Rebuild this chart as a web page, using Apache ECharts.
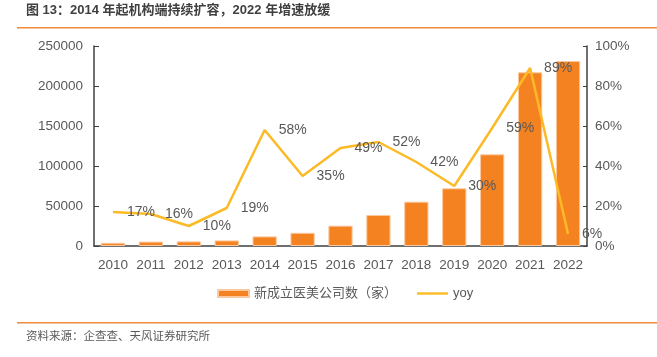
<!DOCTYPE html>
<html><head><meta charset="utf-8">
<script src="https://cdn.jsdelivr.net/npm/echarts@6/dist/echarts.min.js"></script>
<style>html,body{margin:0;padding:0;background:#fff}#c{width:657px;height:357px}</style>
</head><body><div id="c"></div>
<script>
const categories = ['2010','2011','2012','2013','2014','2015','2016','2017','2018','2019','2020','2021','2022'];
const companies = [4000, 5500, 5800, 7000, 12000, 16500, 25400, 38800, 55400, 72100, 114600, 217100, 231200];
const yoy = [17, 16, 10, 19, 58, 35, 49, 52, 42, 30, 59, 89, 6];
const barName = '新成立医美公司数（家）';
const lineName = 'yoy';
const titleText = '图 13：2014 年起机构端持续扩容，2022 年增速放缓';
const sourceText = '资料来源：企查查、天风证券研究所';

const FF = '"Liberation Sans", Arial, "Noto Sans CJK SC", sans-serif';
const chart = echarts.init(document.getElementById('c'), null, {renderer: 'canvas'});
chart.setOption({
  animation: false,
  textStyle: {fontFamily: FF},
  graphic: [
    {type: 'text', left: 26, top: 4, style: {text: titleText, font: 'bold 13px ' + FF, fill: '#404040'}},
    {type: 'rect', shape: {x: 17, y: 27, width: 640, height: 1.5}, style: {fill: '#F08A3C'}},
    {type: 'rect', shape: {x: 17, y: 322, width: 640, height: 1.5}, style: {fill: '#F08A3C'}},
    {type: 'text', left: 26, top: 331, style: {text: sourceText, font: '11.5px ' + FF, fill: '#595959'}}
  ],
  grid: {left: 94, right: 70, top: 46, bottom: 111},
  legend: {
    top: 282, left: 212, itemGap: 20, itemWidth: 31, itemHeight: 7,
    textStyle: {fontSize: 13, color: '#595959'},
    data: [
      {name: barName, icon: 'rect'},
      {name: lineName, icon: 'path://M0,0 M31,7 M0,2.3 L31,2.3 L31,4.7 L0,4.7 Z', itemStyle: {color: '#FBBA26'}}
    ]
  },
  xAxis: {
    type: 'category', data: categories,
    axisLine: {lineStyle: {color: '#404040', width: 1.5}},
    axisTick: {inside: true, length: 4, lineStyle: {color: '#404040'}},
    axisLabel: {fontSize: 13.5, color: '#595959', margin: 13, interval: 0}
  },
  yAxis: [
    {type: 'value', min: 0, max: 250000, interval: 50000,
     axisLine: {show: true, lineStyle: {color: '#404040', width: 1.5}},
     axisTick: {show: true, inside: true, length: 5, lineStyle: {color: '#404040'}},
     splitLine: {show: false},
     axisLabel: {fontSize: 13.5, color: '#595959', margin: 11, formatter: v => String(v)}},
    {type: 'value', min: 0, max: 100, interval: 20, position: 'right',
     axisLine: {show: true, lineStyle: {color: '#404040', width: 1.5}},
     axisTick: {show: true, inside: true, length: 4, lineStyle: {color: '#404040'}},
     splitLine: {show: false},
     axisLabel: {fontSize: 13.5, color: '#595959', margin: 8, formatter: '{value}%'}}
  ],
  series: [
    {name: barName, type: 'bar', data: companies, yAxisIndex: 0, barCategoryGap: '36%',
     itemStyle: {color: '#F58220', borderColor: '#FBC9A0', borderWidth: 1}},
    {name: lineName, type: 'line', data: yoy, yAxisIndex: 1, z: 5,
     symbol: 'circle', symbolSize: 0, showSymbol: true,
     lineStyle: {color: '#FBBA26', width: 2.5}, itemStyle: {color: '#FBBA26'},
     label: {show: true, position: 'right', distance: 14, fontSize: 14, color: '#595959', formatter: '{c}%'}}
  ]
});
</script></body></html>
